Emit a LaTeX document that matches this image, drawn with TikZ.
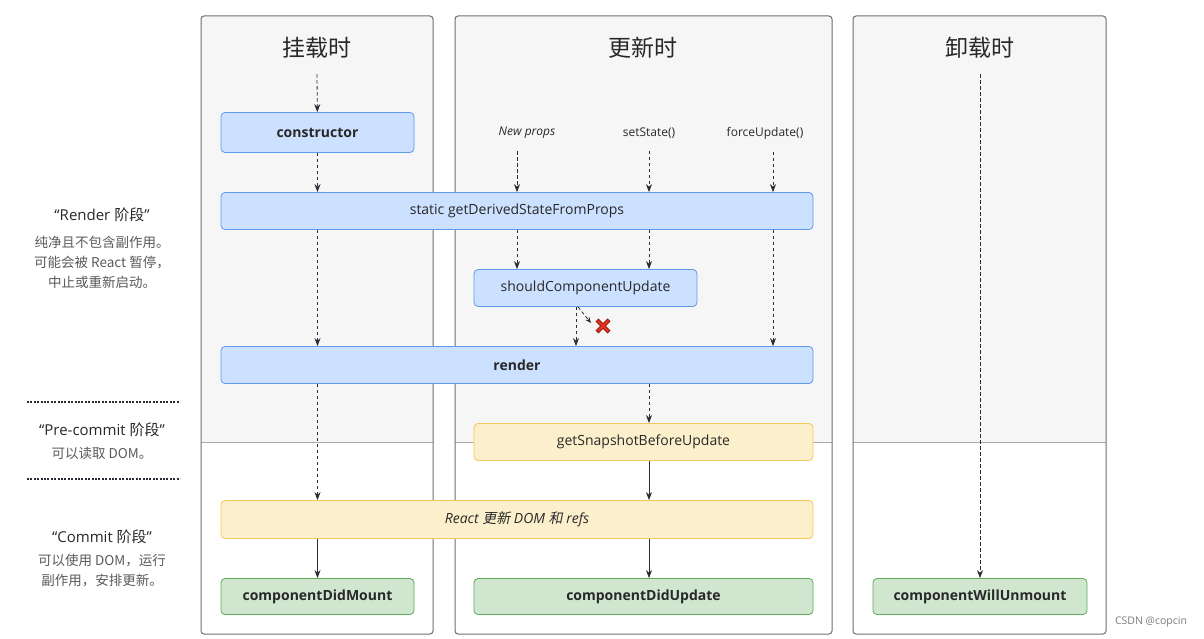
\documentclass[tikz,border=0pt]{standalone}
\usepackage{fontspec}
\setmainfont{Open Sans}
\newfontfamily\cjk{Noto Sans CJK SC}
\newfontfamily\cjkit[FakeSlant=0.2]{Noto Sans CJK SC}
\usetikzlibrary{positioning, arrows.meta}
\definecolor{panelgray}{RGB}{246,246,246}
\definecolor{panelline}{RGB}{110,110,110}
\definecolor{dividergray}{RGB}{170,170,170}
\definecolor{bluefill}{RGB}{204,224,255}
\definecolor{blueline}{RGB}{95,155,235}
\definecolor{yellowfill}{RGB}{252,240,204}
\definecolor{yellowline}{RGB}{245,200,90}
\definecolor{greenfill}{RGB}{208,230,207}
\definecolor{greenline}{RGB}{95,170,90}
\definecolor{textdark}{RGB}{40,40,40}
\definecolor{textgray}{RGB}{90,90,90}
\definecolor{arrowdark}{RGB}{40,44,52}
\definecolor{xred}{RGB}{225,50,30}

\begin{document}
\begin{tikzpicture}[x=1pt, y=-1pt,
  box/.style={rectangle, rounded corners=4pt, draw, line width=0.8pt,
              inner sep=0pt, align=center, text=textdark,
              font=\fontsize{14}{17}\selectfont},
  bluebox/.style={box, draw=blueline, fill=bluefill},
  yellowbox/.style={box, draw=yellowline, fill=yellowfill},
  greenbox/.style={box, draw=greenline, fill=greenfill},
  title/.style={font=\cjk\fontsize{23}{27}\selectfont, text=textdark},
  event/.style={font=\fontsize{12}{14}\selectfont, text=textdark},
  phase/.style={align=center, font=\fontsize{15}{18}\selectfont, text=textdark},
  note/.style={align=center, font=\cjk\fontsize{13.5}{20}\selectfont, text=textgray},
  arr/.style={-{Stealth[length=8pt, width=6pt]}, line width=0.8pt, draw=arrowdark},
  dasharr/.style={arr, dash pattern=on 3.5pt off 2.5pt},
  panel/.style={draw=panelline, line width=1pt, rounded corners=3pt},
  divider/.style={draw=dividergray, line width=1pt},
  sep/.style={line width=2pt, dash pattern=on 2pt off 1.4pt, draw=arrowdark}
]
  \useasboundingbox (0,0) rectangle (1204,639);

  % panels
  \fill[panelgray, rounded corners=3pt] (201,442) -- (201,16) -- (433,16) -- (433,442) -- cycle;
  \fill[panelgray, rounded corners=3pt] (455,442) -- (455,16) -- (832,16) -- (832,442) -- cycle;
  \fill[panelgray, rounded corners=3pt] (853,442) -- (853,16) -- (1106,16) -- (1106,442) -- cycle;
  \draw[divider] (201,442) -- (433,442);
  \draw[divider] (455,442) -- (832,442);
  \draw[divider] (853,442) -- (1106,442);
  \draw[panel] (201,16) rectangle (433,634);
  \draw[panel] (455,16) rectangle (832,634);
  \draw[panel] (853,16) rectangle (1106,634);

  \node[title] (tmount)   at (317,48) {挂载时};
  \node[title] (tupdate)  at (643,48) {更新时};
  \node[title] (tunmount) at (980,48) {卸载时};

  \node[event] (newprops) at (527,133) {\itshape New props};
  \node[event] (setstate) at (649,133) {setState()};
  \node[event] (forceupd) at (765,133) {forceUpdate()};

  \node[bluebox, minimum width=193, minimum height=40, font=\bfseries\fontsize{14}{17}\selectfont]
       (ctor)   at (317.5,132.5) {constructor};
  \node[bluebox, minimum width=592, minimum height=37] (gdsfp) at (517,211)
       {static getDerivedStateFromProps};
  \node[bluebox, minimum width=223, minimum height=37] (scu)   at (585.5,288)
       {shouldComponentUpdate};
  \node[bluebox, minimum width=592, minimum height=37, font=\bfseries\fontsize{14}{17}\selectfont]
       (render) at (517,365) {render};
  \node[yellowbox, minimum width=339, minimum height=37] (snap) at (643.5,442)
       {getSnapshotBeforeUpdate};
  \node[yellowbox, minimum width=592, minimum height=38] (dom)  at (517,519.5)
       {\itshape React {\cjkit 更新} DOM {\cjkit 和} refs};
  \node[greenbox, minimum width=193, minimum height=36, font=\bfseries\fontsize{14}{17}\selectfont]
       (didmount)  at (317.5,596.5) {componentDidMount};
  \node[greenbox, minimum width=339, minimum height=36, font=\bfseries\fontsize{14}{17}\selectfont]
       (didupdate) at (643.5,596.5) {componentDidUpdate};
  \node[greenbox, minimum width=214, minimum height=36, font=\bfseries\fontsize{14}{17}\selectfont]
       (unmount)   at (980,596.5) {componentWillUnmount};

  % mount column
  \draw[dasharr] ([yshift=-12pt]tmount.south) -- (ctor);
  \draw[dasharr] (ctor) -- (ctor.south |- gdsfp.north);
  \draw[dasharr] (ctor.south |- gdsfp.south) -- (ctor.south |- render.north);
  \draw[dasharr] (ctor.south |- render.south) -- (ctor.south |- dom.north);
  \draw[arr] (ctor.south |- dom.south) -- (didmount);

  % update column
  \draw[dasharr] ([xshift=-10pt, yshift=-9pt]newprops.south) -- ([xshift=-10pt]newprops.south |- gdsfp.north);
  \draw[dasharr] ([yshift=-9pt]setstate.south) -- (setstate.south |- gdsfp.north);
  \draw[dasharr] ([xshift=8pt, yshift=-9pt]forceupd.south) -- ([xshift=8pt]forceupd.south |- gdsfp.north);
  \draw[dasharr] ([xshift=-10pt]newprops.south |- gdsfp.south) -- ([xshift=-10pt]newprops.south |- scu.north);
  \draw[dasharr] (setstate.south |- gdsfp.south) -- (setstate.south |- scu.north);
  \draw[dasharr] ([xshift=8pt]forceupd.south |- gdsfp.south) -- ([xshift=8pt]forceupd.south |- render.north);
  \draw[dasharr] ([xshift=-9.5pt]scu.south) -- ([xshift=-9.5pt]scu.south |- render.north);
  \coordinate (nogo) at (603,326);
  \draw[dasharr, -{Stealth[length=6pt, width=5pt]}] ([xshift=-7.5pt]scu.south) -- ([shift={(-12,-3)}]nogo);
  \draw[line width=4.2pt, draw=red!50!black] ([shift={(-6,-6)}]nogo) -- ([shift={(6,6)}]nogo)
       ([shift={(-6,6)}]nogo) -- ([shift={(6,-6)}]nogo);
  \draw[line width=2.6pt, draw=xred] ([shift={(-5.5,-5.5)}]nogo) -- ([shift={(5.5,5.5)}]nogo)
       ([shift={(-5.5,5.5)}]nogo) -- ([shift={(5.5,-5.5)}]nogo);
  \draw[dasharr] (setstate.south |- render.south) -- (setstate.south |- snap.north);
  \draw[arr] (setstate.south |- snap.south) -- (setstate.south |- dom.north);
  \draw[arr] (setstate.south |- dom.south) -- (setstate.south |- didupdate.north);

  % unmount column
  \draw[dasharr] ([yshift=-12pt]tunmount.south) -- (unmount);

  % phases
  \node[phase] (renderphase) at (102,215) {“Render {\cjk 阶段}”};
  \node[note]  (rendernote)  at (102,262) {纯净且不包含副作用。\\可能会被 React 暂停，\\中止或重新启动。};
  \node[phase] (prephase)    at (102,430) {“Pre-commit {\cjk 阶段}”};
  \node[note]  (prenote)     at (102,453) {可以读取 DOM。};
  \node[phase] (commitphase) at (102,537) {“Commit {\cjk 阶段}”};
  \node[note]  (commitnote)  at (102,571) {可以使用 DOM，运行\\副作用，安排更新。};
  \draw[sep] (27,402) -- (180,402);
  \draw[sep] (27,479) -- (180,479);

  \node[font=\fontsize{10.5}{12}\selectfont, text=textgray!80] (csdn) at (1151,622) {CSDN @copcin};
\end{tikzpicture}
\end{document}
